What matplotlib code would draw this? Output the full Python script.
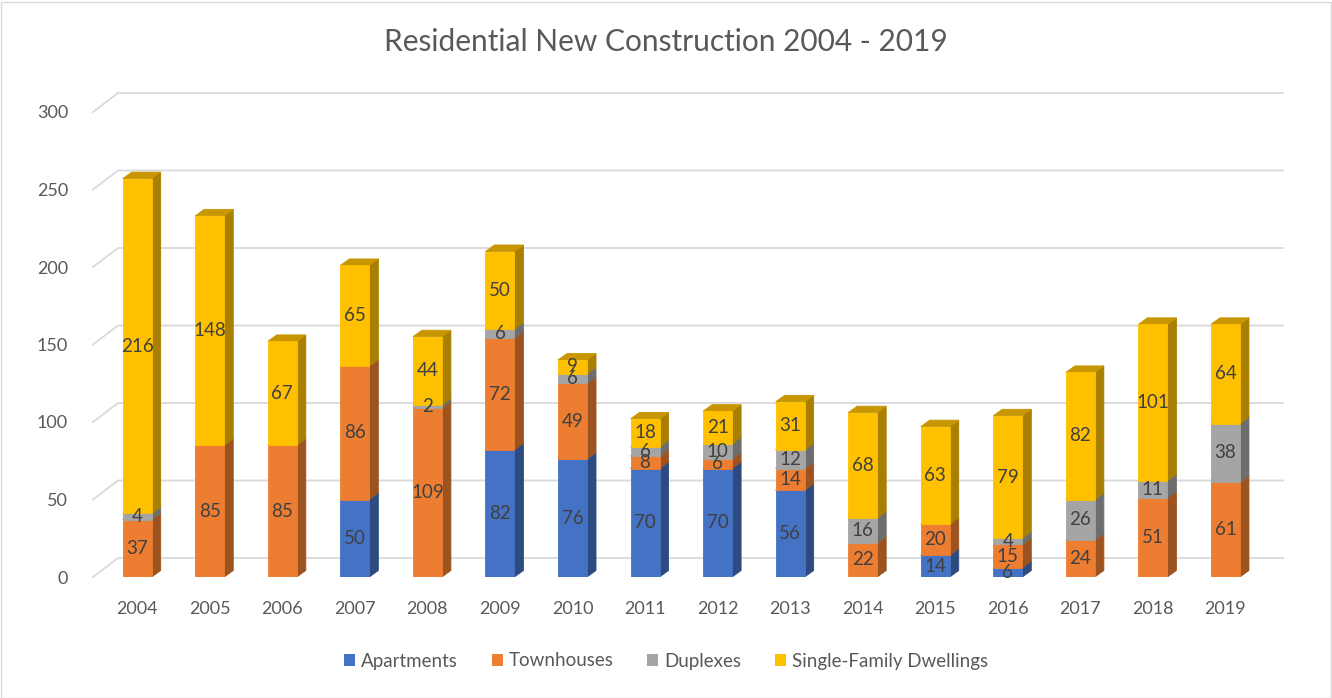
import numpy as np
import matplotlib.pyplot as plt
from matplotlib.patches import Polygon, Rectangle
from matplotlib.colors import to_rgb

plt.rcParams['font.family'] = ['Lato', 'DejaVu Sans']

years = ["2004", "2005", "2006", "2007", "2008", "2009", "2010", "2011",
         "2012", "2013", "2014", "2015", "2016", "2017", "2018", "2019"]
apartments = [0, 0, 0, 50, 0, 82, 76, 70, 70, 56, 0, 14, 6, 0, 0, 0]
townhouses = [37, 85, 85, 86, 109, 72, 49, 8, 6, 14, 22, 20, 15, 24, 51, 61]
duplexes = [4, 0, 0, 0, 2, 6, 6, 6, 10, 12, 16, 0, 4, 26, 11, 38]
single_family = [216, 148, 67, 65, 44, 50, 9, 18, 21, 31, 68, 63, 79, 82, 101, 64]

series = [("Apartments", apartments, "#4472C4"),
          ("Townhouses", townhouses, "#ED7D31"),
          ("Duplexes", duplexes, "#A5A5A5"),
          ("Single-Family Dwellings", single_family, "#FFC000")]

W, H = 1332, 698
fig = plt.figure(figsize=(W / 100, H / 100), dpi=100)

# axes placed in pixels: x from 93 to 1283, y=0 at 577, top at 90
px_x = 72.55          # pixels per category
px_y = 1.55           # pixels per unit
x_left = (93 - 137.2) / px_x
x_right = (1283 - 137.2) / px_x
y_top = (577 - 90) / px_y
ax = fig.add_axes([93 / W, (H - 577) / H, (1283 - 93) / W, (577 - 90) / H])
ax.set_xlim(x_left, x_right)
ax.set_ylim(0, y_top)
for s in ax.spines.values():
    s.set_visible(False)

# back wall gridlines, with the diagonal going into depth
gdx, gdy = 25 / px_x, 19 / px_y
for v in range(0, 301, 50):
    ax.plot([x_left, x_left + gdx, x_right], [v, v + gdy, v + gdy],
            color="#D9D9D9", lw=1.3, zorder=0, clip_on=False)

ax.set_yticks(range(0, 301, 50))
ax.set_yticklabels([str(v) for v in range(0, 301, 50)], fontsize=13, color="#595959")
ax.set_xticks(range(len(years)))
ax.set_xticklabels(years, fontsize=13, color="#595959")
ax.tick_params(length=0)
ax.tick_params(axis="y", pad=18)
ax.tick_params(axis="x", pad=17)

def shade(c, f):
    r, g, b = to_rgb(c)
    return (r * f, g * f, b * f)

bw = 29 / px_x
dx, dy = 9 / px_x, 6.5 / px_y
bottom = np.zeros(len(years))
z = 2
for name, vals, col in series:
    vals = np.array(vals, dtype=float)
    for i, v in enumerate(vals):
        if v <= 0:
            continue
        x0 = i - bw / 2
        b = bottom[i]
        t = b + v
        side = shade(col, 0.66)
        top = shade(col, 0.78)
        ax.add_patch(Polygon([(x0 + bw, b), (x0 + bw + dx, b + dy), (x0 + bw + dx, t + dy), (x0 + bw, t)],
                             closed=True, facecolor=side, edgecolor=side, lw=0.6, zorder=z))
        ax.add_patch(Polygon([(x0, t), (x0 + bw, t), (x0 + bw + dx, t + dy), (x0 + dx, t + dy)],
                             closed=True, facecolor=top, edgecolor=top, lw=0.6, zorder=z))
        ax.add_patch(Rectangle((x0, b), bw, v, facecolor=col, edgecolor=col, lw=0.6, zorder=z + 0.5))
        ax.text(i, b + v / 2, str(int(v)), ha="center", va="center", fontsize=13.5,
                color="#404040", zorder=100)
        z += 1
    bottom += vals

fig.text(0.5, 1 - 42 / H, "Residential New Construction 2004 - 2019", ha="center", va="center",
         fontsize=21.5, color="#595959")

handles = [Rectangle((0, 0), 1, 1, facecolor=c) for _, _, c in series]
fig.legend(handles, [n for n, _, _ in series], loc="center", bbox_to_anchor=(0.5, 1 - 661 / H),
           ncol=4, frameon=False, fontsize=13.5, handlelength=0.6, handleheight=0.6,
           handletextpad=0.3, columnspacing=1.8, labelcolor="#595959")

fig.patches.append(Rectangle((0.5 / W, 0.5 / H), 1 - 2 / W, 1 - 2 / H, transform=fig.transFigure,
                             fill=False, edgecolor="#D9D9D9", lw=1))

fig.savefig("out.png", dpi=100)
